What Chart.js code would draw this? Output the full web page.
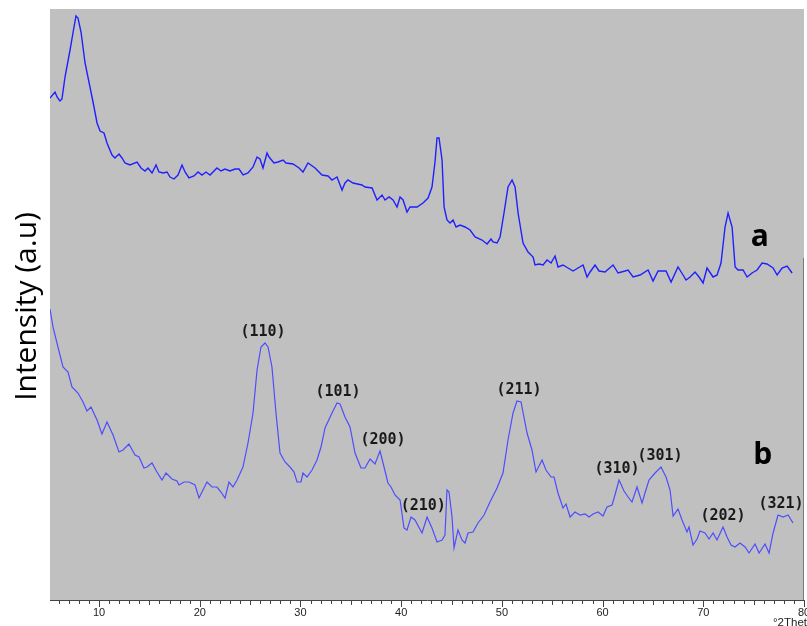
<!DOCTYPE html>
<html>
<head>
<meta charset="utf-8">
<script src="https://cdn.jsdelivr.net/npm/chart.js@4.4.1/dist/chart.umd.min.js"></script>
<style>
  html, body { margin: 0; padding: 0; background: #fff; }
  #xrd { display: block; }
</style>
</head>
<body>
<canvas id="xrd" width="807" height="626"></canvas>
<script>
// sample a (top trace)
const twoThetaA = [5.13, 5.63, 5.83, 6.12, 6.32, 6.62, 7.12, 7.41, 7.71, 7.91, 8.21, 8.61, 9.10, 9.50, 9.80,
  10.10, 10.49, 10.79, 11.29, 11.58, 11.98, 12.28, 12.58, 13.07, 13.77, 14.17, 14.56, 14.86, 15.26, 15.66,
  15.95, 16.35, 16.75, 17.05, 17.44, 17.84, 18.24, 18.54, 18.93, 19.43, 19.83, 20.22, 20.62, 21.02, 21.71,
  22.11, 22.51, 23.00, 23.50, 23.90, 24.30, 24.79, 25.29, 25.69, 25.98, 26.28, 26.68, 26.88, 27.37, 27.77,
  28.27, 28.57, 29.26, 29.86, 30.25, 30.75, 31.45, 32.14, 32.74, 33.13, 33.63, 34.13, 34.42, 34.72, 35.22,
  36.11, 36.41, 37.11, 37.60, 38.10, 38.40, 38.80, 39.19, 39.59, 39.89, 40.19, 40.58, 40.88, 41.58, 42.17,
  42.67, 43.06, 43.36, 43.56, 43.76, 44.06, 44.26, 44.55, 44.85, 45.15, 45.45, 45.85, 46.34, 46.84, 47.34,
  48.03, 48.53, 48.92, 49.12, 49.52, 49.82, 50.21, 50.61, 51.01, 51.31, 51.61, 52.10, 52.60, 53.10, 53.29,
  53.69, 54.09, 54.49, 54.88, 55.28, 55.58, 56.07, 56.57, 57.07, 57.56, 58.06, 58.46, 58.76, 59.25, 59.65,
  60.24, 61.04, 61.54, 62.23, 62.53, 63.03, 63.72, 64.52, 65.01, 65.51, 66.30, 66.80, 67.49, 67.99, 68.29,
  68.69, 69.18, 69.58, 69.98, 70.37, 70.97, 71.37, 71.76, 72.16, 72.46, 72.86, 73.16, 73.45, 73.95, 74.35,
  74.84, 75.34, 75.84, 76.33, 76.93, 77.33, 77.82, 78.32, 78.82];
const intensityA = [502, 508, 503, 499, 501, 523, 550, 567, 584, 582, 568, 537, 513, 493, 477,
  469, 467, 457, 445, 442, 446, 442, 437, 435, 438, 432, 429, 432, 427, 435,
  428, 427, 428, 423, 421, 425, 435, 428, 422, 424, 428, 425, 428, 425, 432,
  429, 431, 429, 431, 431, 425, 427, 433, 443, 441, 432, 447, 443, 437, 438,
  440, 437, 436, 432, 428, 437, 432, 425, 424, 420, 423, 410, 417, 420, 417,
  415, 413, 412, 400, 405, 400, 403, 400, 393, 403, 400, 388, 393, 393, 397,
  402, 413, 438, 462, 462, 440, 393, 380, 377, 380, 373, 375, 373, 370, 363,
  360, 356, 361, 358, 357, 363, 387, 413, 420, 413, 387, 357, 348, 343, 335,
  336, 335, 340, 337, 344, 333, 335, 332, 329, 332, 335, 323, 328, 335, 329,
  328, 335, 327, 329, 330, 323, 325, 330, 319, 329, 329, 318, 333, 325, 320,
  323, 328, 323, 317, 332, 323, 325, 337, 373, 387, 373, 333, 330, 330, 323,
  327, 330, 337, 336, 332, 325, 332, 334, 327];

// sample b (bottom trace)
const twoThetaB = [5.13, 5.43, 5.92, 6.42, 6.92, 7.31, 7.91, 8.41, 8.80, 9.20, 9.80, 10.29, 10.79, 11.39, 11.98,
  12.38, 12.97, 13.57, 13.97, 14.46, 14.76, 15.26, 15.75, 16.25, 16.65, 17.24, 17.74, 17.94, 18.44, 18.93,
  19.53, 19.93, 20.32, 20.72, 21.22, 21.71, 22.11, 22.51, 22.90, 23.30, 23.70, 24.29, 24.79, 25.29, 25.69,
  26.08, 26.48, 26.78, 27.17, 27.57, 27.97, 28.47, 28.96, 29.36, 29.66, 30.05, 30.25, 30.65, 31.15, 31.64,
  32.04, 32.44, 33.13, 33.63, 33.93, 34.42, 34.92, 35.42, 36.01, 36.41, 36.91, 37.40, 37.90, 38.20, 38.69,
  38.99, 39.39, 39.89, 40.28, 40.58, 40.98, 41.37, 42.07, 42.57, 43.06, 43.56, 44.06, 44.35, 44.55, 44.75,
  45.05, 45.25, 45.64, 46.04, 46.34, 46.64, 47.13, 47.63, 48.23, 48.82, 49.52, 50.11, 50.61, 51.11, 51.50,
  51.90, 52.50, 52.99, 53.39, 53.99, 54.38, 54.88, 55.18, 55.57, 56.07, 56.37, 56.77, 57.26, 57.76, 58.26,
  58.66, 59.05, 59.55, 60.04, 60.44, 60.94, 61.23, 61.63, 62.13, 62.53, 62.92, 63.42, 63.92, 64.21, 64.61,
  65.21, 65.80, 66.30, 66.70, 67.00, 67.49, 67.89, 68.38, 68.58, 68.98, 69.38, 69.67, 70.17, 70.57, 70.97,
  71.36, 71.96, 72.36, 72.76, 73.15, 73.65, 74.15, 74.54, 75.14, 75.54, 76.13, 76.53, 76.93, 77.42, 77.92,
  78.42, 78.91];
const intensityB = [291, 273, 253, 233, 228, 213, 207, 198, 189, 193, 180, 166, 178, 165, 148,
  150, 156, 145, 143, 132, 133, 137, 128, 120, 127, 121, 119, 115, 118, 118,
  115, 102, 110, 118, 113, 113, 108, 102, 118, 113, 120, 133, 157, 187, 230,
  253, 257, 253, 233, 187, 147, 138, 133, 128, 118, 118, 127, 123, 130, 140,
  153, 172, 187, 197, 196, 183, 173, 147, 132, 132, 141, 136, 149, 137, 117,
  113, 105, 100, 72, 70, 83, 80, 67, 83, 72, 58, 60, 65, 110, 108,
  83, 52, 70, 60, 57, 67, 68, 77, 85, 98, 112, 127, 160, 187, 199,
  198, 167, 150, 128, 140, 130, 123, 123, 107, 92, 96, 83, 88, 85, 86,
  83, 86, 88, 84, 93, 95, 105, 120, 109, 103, 98, 113, 97, 107, 120,
  127, 133, 123, 110, 84, 91, 80, 68, 73, 55, 61, 69, 67, 61, 67,
  60, 73, 63, 55, 53, 57, 53, 47, 56, 47, 56, 47, 67, 85, 83,
  85, 77];

// Miller indices of sample b and the 2theta where each is written
const hkl = ["(110)", "(101)", "(200)", "(210)", "(211)", "(310)", "(301)", "(202)", "(321)"];
const hklTwoTheta = [26.28, 33.73, 38.20, 42.20, 51.70, 61.43, 65.70, 71.96, 77.72];

const xTicks = [];
for (let v = 6; v <= 80; v++) xTicks.push(v);

const points = (xs, ys) => xs.map((x, i) => ({ x: x, y: ys[i] }));

const xrdDecor = {
  id: "xrdDecor",
  beforeDraw(chart) {
    const { ctx, chartArea: a } = chart;
    ctx.save();
    ctx.fillStyle = "#c0c0c0";
    ctx.fillRect(a.left, a.top, a.right - a.left, a.bottom - a.top);
    ctx.restore();
  },
  afterDraw(chart) {
    const { ctx, chartArea: a } = chart;
    const xs = chart.scales.x, ys = chart.scales.y;
    ctx.save();

    // tick marks below the axis
    ctx.strokeStyle = "#444";
    ctx.lineWidth = 1;
    xTicks.forEach(v => {
      const px = Math.round(xs.getPixelForValue(v)) + 0.5;
      const len = v % 10 === 0 ? 7 : (v % 5 === 0 ? 5 : 4);
      ctx.beginPath();
      ctx.moveTo(px, a.bottom);
      ctx.lineTo(px, a.bottom + len);
      ctx.stroke();
    });

    // right frame edge
    ctx.strokeStyle = "#7a7a7a";
    ctx.beginPath();
    ctx.moveTo(a.right - 0.5, ys.getPixelForValue(342));
    ctx.lineTo(a.right - 0.5, a.bottom);
    ctx.stroke();

    // hkl labels above the local maximum of trace b
    ctx.fillStyle = "#1a1a1a";
    ctx.font = "bold 15px 'DejaVu Sans Mono'";
    ctx.textAlign = "center";
    ctx.textBaseline = "middle";
    hkl.forEach((lab, i) => {
      const t = hklTwoTheta[i];
      let top = 0;
      twoThetaB.forEach((x, j) => {
        if (Math.abs(x - t) <= 1.0 && intensityB[j] > top) top = intensityB[j];
      });
      ctx.fillText(lab, xs.getPixelForValue(t), ys.getPixelForValue(top) - 11);
    });

    // sample letters
    ctx.fillStyle = "#000";
    ctx.font = "bold 30px 'Open Sans'";
    ctx.fillText("a", xs.getPixelForValue(75.6), ys.getPixelForValue(363));
    ctx.fillText("b", xs.getPixelForValue(75.9), ys.getPixelForValue(145));

    // y title
    ctx.font = "30px 'Open Sans'";
    ctx.textBaseline = "alphabetic";
    ctx.translate(36, (a.top + a.bottom) / 2 + 2);
    ctx.rotate(-Math.PI / 2);
    ctx.fillText("Intensity (a.u)", 0, 0);
    ctx.restore();

    // x unit, cut by the canvas edge like the source
    ctx.save();
    ctx.fillStyle = "#222";
    ctx.font = "11.5px 'Liberation Sans'";
    ctx.textAlign = "left";
    ctx.textBaseline = "alphabetic";
    ctx.fillText("°2Theta", 773, 626);
    ctx.restore();
  }
};

new Chart(document.getElementById("xrd"), {
  type: "line",
  data: {
    datasets: [
      { label: "a", data: points(twoThetaA, intensityA), borderColor: "#1f1fff", borderWidth: 1.4 },
      { label: "b", data: points(twoThetaB, intensityB), borderColor: "#4d4dff", borderWidth: 1.2 }
    ]
  },
  options: {
    responsive: false,
    animation: false,
    elements: { point: { radius: 0 }, line: { tension: 0 } },
    layout: { padding: { left: 50, top: 9, right: 3, bottom: 0 } },
    plugins: { legend: { display: false }, tooltip: { enabled: false } },
    scales: {
      x: {
        type: "linear",
        min: 5.13,
        max: 80,
        afterBuildTicks: s => { s.ticks = xTicks.map(v => ({ value: v })); },
        afterFit: s => { s.height = 26; s.paddingLeft = 0; s.paddingRight = 0; },
        grid: { display: true, drawOnChartArea: false, drawTicks: false },
        border: { display: true, color: "#444", width: 1 },
        ticks: {
          autoSkip: false,
          maxRotation: 0,
          padding: 6,
          color: "#222",
          font: { family: "'Liberation Sans', Arial", size: 11 },
          callback: v => (v % 10 === 0 ? String(v) : "")
        }
      },
      y: { display: false, min: 0, max: 591 }
    }
  },
  plugins: [xrdDecor]
});
</script>
</body>
</html>
